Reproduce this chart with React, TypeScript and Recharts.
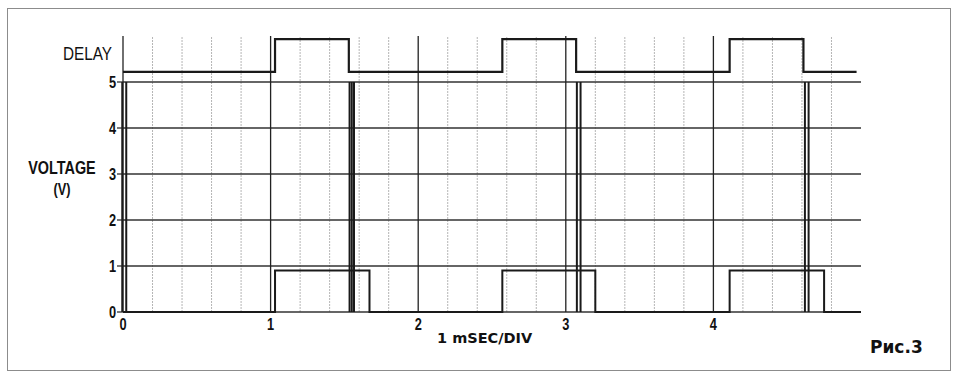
import React from 'react';
import {
  ComposedChart,
  Line,
  XAxis,
  YAxis,
  ReferenceLine,
} from 'recharts';

// time axis, ms (1 mSEC/DIV)
const X_TICKS = [0, 1, 2, 3, 4];
const Y_TICKS = [0, 1, 2, 3, 4, 5];
const MAJOR_DIVS = [0, 1, 2, 3, 4];
const MINOR_DIVS = [
  0.2, 0.4, 0.6, 0.8, 1.2, 1.4, 1.6, 1.8, 2.2, 2.4, 2.6, 2.8,
  3.2, 3.4, 3.6, 3.8, 4.2, 4.4, 4.6, 4.8,
];

// DELAY trace, drawn in the band above the 5 V line
const DELAY_LOW = 5.22;
const DELAY_HIGH = 5.93;
const delayTimes = [0, 1.03, 1.03, 1.53, 1.53, 2.57, 2.57, 3.07, 3.07, 4.11, 4.11, 4.61, 4.61, 4.97];
const delayStates = [0, 0, 1, 1, 0, 0, 1, 1, 0, 0, 1, 1, 0, 0];

// voltage trace (V)
const voltTimes = [0, 1.03, 1.03, 1.67, 1.67, 2.57, 2.57, 3.2, 3.2, 4.11, 4.11, 4.75, 4.75, 5];
const voltValues = [0, 0, 0.9, 0.9, 0, 0, 0.9, 0.9, 0, 0, 0.9, 0.9, 0, 0];

// short spikes 0 -> 5 V
const spikeTimes = [-0.005, 0.022, 1.535, 1.55, 1.565, 3.075, 3.1, 4.62, 4.645];
const SPIKE_TOP = 5;

const delayData = delayTimes.map((t, i) => ({ t, v: delayStates[i] ? DELAY_HIGH : DELAY_LOW }));
const voltData = voltTimes.map((t, i) => ({ t, v: voltValues[i] }));

const sans = '"Liberation Sans", Arial, sans-serif';
const SQUEEZE = 0.8;

// condensed tick text (no narrow font installed)
function XTick(props: any) {
  const { x, y, payload } = props;
  return (
    <g transform={`translate(${x},${y})`}>
      <text transform={`scale(${SQUEEZE},1)`} textAnchor="middle" dy="0.71em" fill="#111"
        fontSize={16} fontWeight={700} fontFamily={sans}>
        {payload.value}
      </text>
    </g>
  );
}

function YTick(props: any) {
  const { x, y, payload } = props;
  return (
    <g transform={`translate(${x},${y})`}>
      <text transform={`scale(${SQUEEZE},1)`} textAnchor="end" dy="0.36em" fill="#111"
        fontSize={16} fontWeight={700} fontFamily={sans}>
        {payload.value}
      </text>
    </g>
  );
}

const squeezed = (origin: string, k = SQUEEZE): React.CSSProperties => ({
  transform: `scaleX(${k})`,
  transformOrigin: origin,
});

export default function App() {
  return (
    <div style={{ position: 'absolute', left: 0, top: 0, width: 954, height: 376, background: '#fff' }}>
      <div
        style={{
          position: 'absolute', left: 7, top: 8, width: 944, height: 363,
          border: '1px solid #8c8c8c', boxSizing: 'border-box',
        }}
      />
      <div style={{ position: 'absolute', left: 0, top: 0 }}>
        <ComposedChart width={954} height={376} margin={{ top: 36, right: 93, bottom: 34, left: 0 }}>
          {MINOR_DIVS.map((x) => (
            <ReferenceLine key={'m' + x} x={x} stroke="#b5b5b5" strokeDasharray="2 1" />
          ))}
          {Y_TICKS.map((y) => (
            <ReferenceLine key={'h' + y} segment={[{ x: 0, y }, { x: 5, y }]} stroke="#333" strokeWidth={1.3} />
          ))}
          {MAJOR_DIVS.map((x) => (
            <ReferenceLine key={'M' + x} x={x} stroke="#222" strokeWidth={1.3} />
          ))}
          <XAxis
            type="number"
            dataKey="t"
            domain={[0, 5]}
            ticks={X_TICKS}
            axisLine={false}
            tickLine={false}
            tickMargin={1}
            height={30}
            tick={<XTick />}
          />
          <YAxis
            type="number"
            domain={[0, 6]}
            ticks={Y_TICKS}
            width={123}
            axisLine={false}
            tickSize={6}
            tickMargin={1}
            tickLine={{ stroke: '#222', strokeWidth: 1.2 }}
            tick={<YTick />}
          />
          {spikeTimes.map((x) => (
            <ReferenceLine
              key={'s' + x}
              segment={[{ x, y: 0 }, { x, y: SPIKE_TOP }]}
              stroke="#1a1a1a"
              strokeWidth={2}
              ifOverflow="visible"
            />
          ))}
          <Line
            data={voltData}
            dataKey="v"
            type="linear"
            stroke="#1a1a1a"
            strokeWidth={2}
            dot={false}
            isAnimationActive={false}
          />
          <Line
            data={delayData}
            dataKey="v"
            type="linear"
            stroke="#1a1a1a"
            strokeWidth={2.2}
            dot={false}
            isAnimationActive={false}
          />
        </ComposedChart>
      </div>
      <div style={{ position: 'absolute', left: 63, top: 45, fontFamily: sans, fontSize: 18, color: '#111', lineHeight: '18px', whiteSpace: 'nowrap', ...squeezed('left center', 0.85) }}>
        DELAY
      </div>
      <div style={{ position: 'absolute', left: 12, top: 159, width: 100, textAlign: 'center', fontFamily: sans, fontSize: 18, fontWeight: 700, color: '#111', lineHeight: '18px', ...squeezed('center center') }}>
        VOLTAGE
      </div>
      <div style={{ position: 'absolute', left: 12, top: 181, width: 100, textAlign: 'center', fontFamily: sans, fontSize: 16, fontWeight: 700, color: '#111', lineHeight: '18px', ...squeezed('center center') }}>
        (V)
      </div>
      <div style={{ position: 'absolute', left: 437, top: 329, fontFamily: '"DejaVu Sans", sans-serif', fontSize: 14.5, fontWeight: 700, color: '#111', lineHeight: '18px', whiteSpace: 'nowrap' }}>
        1 mSEC/DIV
      </div>
      <div style={{ position: 'absolute', left: 870, top: 337, fontFamily: '"DejaVu Sans", sans-serif', fontSize: 17, fontWeight: 900, color: '#111', lineHeight: '20px', whiteSpace: 'nowrap' }}>
        Рис.3
      </div>
    </div>
  );
}
